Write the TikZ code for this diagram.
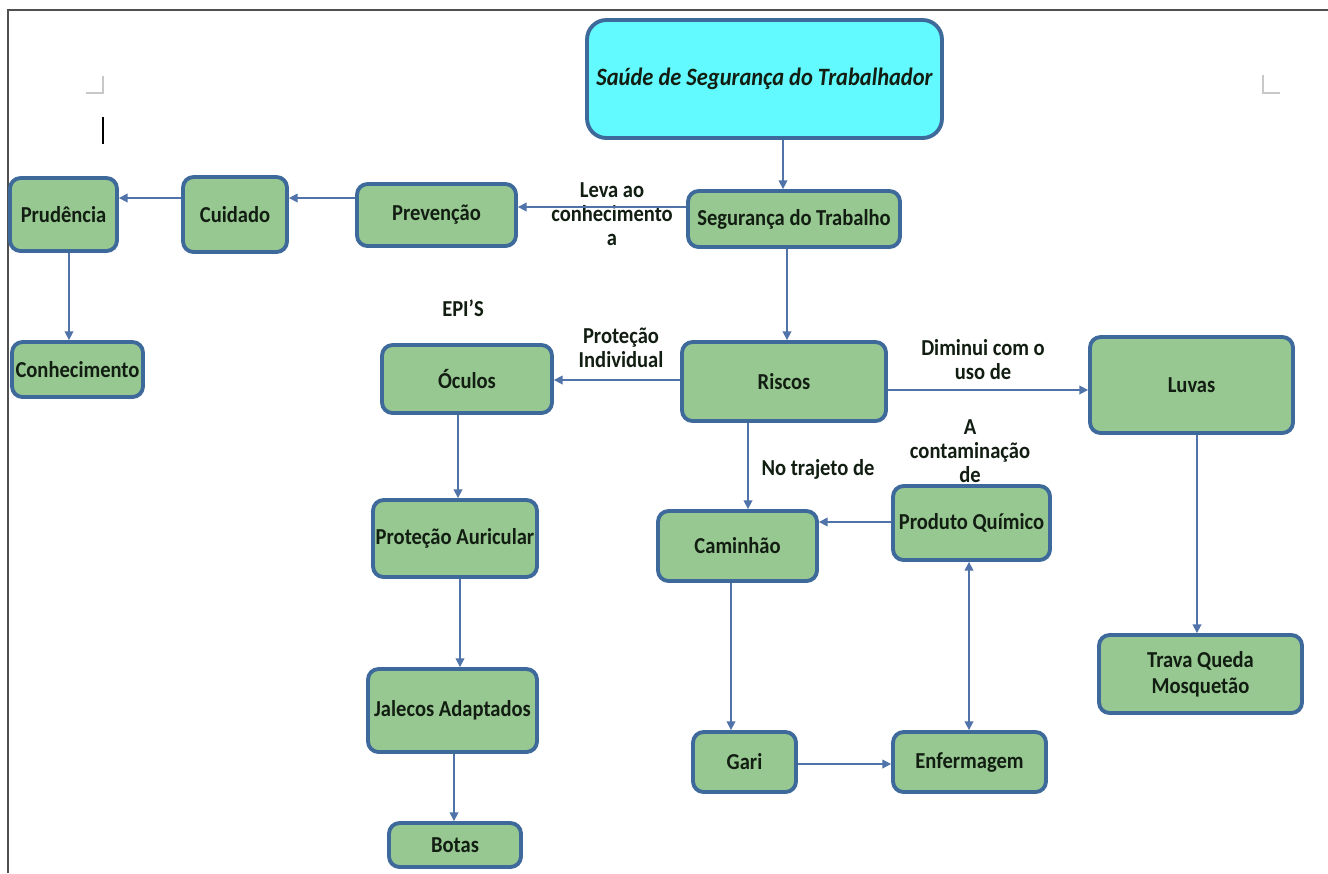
\documentclass[tikz,border=0pt]{standalone}
\usepackage{fontspec}
\setmainfont{Carlito}[FakeStretch=0.9]
\usetikzlibrary{arrows.meta}
\definecolor{boxfill}{RGB}{152,200,146}
\definecolor{boxline}{RGB}{62,105,155}
\definecolor{titlefill}{RGB}{98,250,255}
\definecolor{arrowc}{RGB}{80,115,170}
\definecolor{framec}{RGB}{80,80,80}
\definecolor{markc}{RGB}{200,200,200}
\definecolor{txt}{RGB}{18,30,18}
\begin{document}
\begin{tikzpicture}[x=0.02cm,y=-0.02cm,
  box/.style={draw=boxline, fill=boxfill, line width=2.2pt, rounded corners=6pt, inner sep=0pt, align=center, text=txt, font=\fontsize{13}{13.7}\selectfont\bfseries},
  titlebox/.style={box, fill=titlefill, rounded corners=11pt, font=\fontsize{14.2}{15}\selectfont\bfseries\itshape},
  lbl/.style={align=center, inner sep=0pt, text=txt, font=\fontsize{13}{13.7}\selectfont\bfseries},
  arr/.style={draw=arrowc, line width=0.85pt, -{Triangle[length=5pt,width=5pt]}},
  darr/.style={draw=arrowc, line width=0.85pt, {Triangle[length=5pt,width=5pt]}-{Triangle[length=5pt,width=5pt]}},
  framel/.style={draw=framec, line width=1.1pt},
  markl/.style={draw=markc, line width=0.8pt}
]
\useasboundingbox (0,0) rectangle (1328,873);
\fill[white] (0,0) rectangle (1328,873);
% page frame and marks
\draw[framel] (8,873) -- (8,10) -- (1328,10);
\draw[markl] (86,93) -- (103,93) -- (103,76);
\draw[markl] (1263,75) -- (1263,93) -- (1280,93);
\draw[black, line width=0.8pt] (103,117) -- (103,144);

% boxes
\node[titlebox, minimum width=7.10cm, minimum height=2.36cm] (title) at (764.5,79) {Saúde de Segurança do Trabalhador};
\node[box, minimum width=4.24cm, minimum height=1.12cm] (seg) at (794,219) {Segurança do Trabalho};
\node[box, minimum width=3.18cm, minimum height=1.24cm] (prev) at (436.5,215) {Prevenção};
\node[box, minimum width=2.08cm, minimum height=1.50cm] (cuid) at (235,214.5) {Cuidado};
\node[box, minimum width=2.14cm, minimum height=1.46cm] (prud) at (63.5,214.5) {Prudência};
\node[box, minimum width=2.62cm, minimum height=1.10cm] (conh) at (77.5,369.5) {Conhecimento};
\node[box, minimum width=3.40cm, minimum height=1.36cm] (ocul) at (467,379) {Óculos};
\node[box, minimum width=4.08cm, minimum height=1.58cm] (risc) at (784,381.5) {Riscos};
\node[box, minimum width=4.06cm, minimum height=1.92cm] (luv) at (1191.5,385) {Luvas};
\node[box, minimum width=3.28cm, minimum height=1.54cm] (prot) at (455,538.5) {Proteção Auricular};
\node[box, minimum width=3.18cm, minimum height=1.40cm] (cam) at (737.5,546) {Caminhão};
\node[box, minimum width=3.14cm, minimum height=1.48cm] (prod) at (971.5,523) {Produto Químico};
\node[box, minimum width=4.06cm, minimum height=1.56cm, font=\fontsize{13}{14.8}\selectfont\bfseries] (trav) at (1200.5,674) {Trava Queda\\Mosquetão};
\node[box, minimum width=3.38cm, minimum height=1.66cm] (jal) at (452.5,710.5) {Jalecos Adaptados};
\node[box, minimum width=2.06cm, minimum height=1.20cm] (gari) at (744.5,762) {Gari};
\node[box, minimum width=3.06cm, minimum height=1.20cm] (enf) at (969.5,762) {Enfermagem};
\node[box, minimum width=2.64cm, minimum height=0.88cm] (bot) at (455,845) {Botas};

% labels
\node[lbl] (l1) at (612,214) {Leva ao\\conhecimento\\a};
\node[lbl] (l2) at (463,308) {EPI’S};
\node[lbl] (l3) at (621,348) {Proteção\\Individual};
\node[lbl] (l4) at (983,360) {Diminui com o\\uso de};
\node[lbl] (l5) at (970,451) {A\\contaminação\\de};
\node[lbl] (l6) at (818,469) {No trajeto de};

% connectors
\draw[arr] ([xshift=0.37cm]title.south) -- ([xshift=0.37cm]title.south |- seg.north);
\draw[arr] ([yshift=0.24cm]seg.west) -- ([yshift=0.24cm]seg.west -| prev.east);
\draw[arr] ([yshift=0.34cm]prev.west) -- ([yshift=0.34cm]prev.west -| cuid.east);
\draw[arr] ([yshift=0.33cm]cuid.west) -- ([yshift=0.33cm]cuid.west -| prud.east);
\draw[arr] ([xshift=0.11cm]prud.south) -- ([xshift=0.11cm]prud.south |- conh.north);
\draw[arr] ([xshift=-0.14cm]seg.south) -- ([xshift=-0.14cm]seg.south |- risc.north);
\draw[arr] ([yshift=0.03cm]risc.west) -- ([yshift=0.03cm]risc.west -| ocul.east);
\draw[arr] ([yshift=-0.17cm]risc.east) -- ([yshift=-0.17cm]risc.east -| luv.west);
\draw[arr] ([xshift=-0.72cm]risc.south) -- ([xshift=-0.72cm]risc.south |- cam.north);
\draw[arr] ([yshift=0.02cm]prod.west) -- ([yshift=0.02cm]prod.west -| cam.east);
\draw[arr] ([xshift=-0.18cm]ocul.south) -- ([xshift=-0.18cm]ocul.south |- prot.north);
\draw[arr] ([xshift=0.1cm]prot.south) -- ([xshift=0.1cm]prot.south |- jal.north);
\draw[arr] ([xshift=0.03cm]jal.south) -- ([xshift=0.03cm]jal.south |- bot.north);
\draw[arr] ([xshift=-0.13cm]cam.south) -- ([xshift=-0.13cm]cam.south |- gari.north);
\draw[arr] ([yshift=-0.04cm]gari.east) -- ([yshift=-0.04cm]gari.east -| enf.west);
\draw[darr] ([xshift=-0.01cm]enf.north) -- ([xshift=-0.01cm]enf.north |- prod.south);
\draw[arr] ([xshift=0.11cm]luv.south) -- ([xshift=0.11cm]luv.south |- trav.north);
\end{tikzpicture}
\end{document}
